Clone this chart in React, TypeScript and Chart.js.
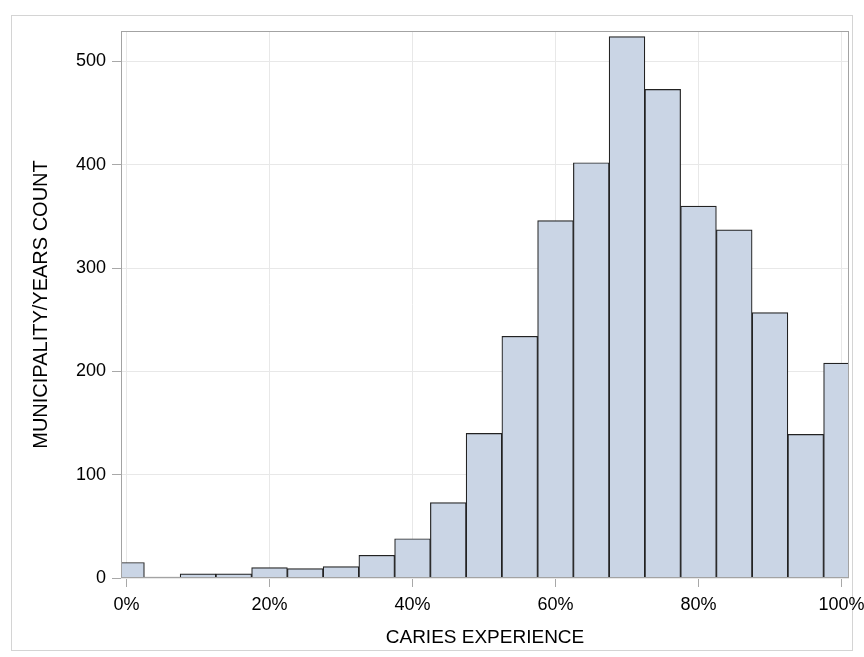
import React, { useEffect, useRef } from "react";
import { Chart, registerables } from "chart.js";

Chart.register(...registerables);

const binCenters = [0, 5, 10, 15, 20, 25, 30, 35, 40, 45, 50, 55, 60, 65, 70, 75, 80, 85, 90, 95, 100];
const counts = [15, 1, 4, 4, 10, 9, 11, 22, 38, 73, 140, 234, 346, 402, 524, 473, 360, 337, 257, 139, 208];
const xTickValues = [0, 20, 40, 60, 80, 100];
const yTickValues = [0, 100, 200, 300, 400, 500];
const xTitle = "CARIES EXPERIENCE";
const yTitle = "MUNICIPALITY/YEARS COUNT";

const FONT = "'Liberation Sans', Arial, Helvetica, sans-serif";

export default function App() {
  const ref = useRef<HTMLCanvasElement>(null);

  useEffect(() => {
    if (!ref.current) return;
    const framePlugin = {
      id: "frame",
      beforeDraw(chart: any) {
        const ctx = chart.ctx;
        ctx.save();
        ctx.fillStyle = "#ffffff";
        ctx.fillRect(0, 0, chart.width, chart.height);
        ctx.strokeStyle = "#d4d4d4";
        ctx.lineWidth = 1;
        ctx.strokeRect(11.5, 15.5, 841, 635);
        ctx.restore();
      },
      afterDraw(chart: any) {
        const { left, top, right, bottom } = chart.chartArea;
        const ctx = chart.ctx;
        ctx.save();
        ctx.strokeStyle = "#a3a3a3";
        ctx.lineWidth = 1;
        ctx.strokeRect(left + 0.5, top + 0.5, right - left - 1, bottom - top - 1);
        ctx.restore();
      },
    };

    const chart = new Chart(ref.current, {
      type: "bar",
      data: {
        datasets: [
          {
            data: binCenters.map((x, i) => ({ x, y: counts[i] })),
            backgroundColor: "#cad5e5",
            borderColor: "#222222",
            borderWidth: 1.2,
            barPercentage: 1,
            categoryPercentage: 1,
            borderSkipped: "start",
          },
        ],
      },
      options: {
        responsive: false,
        animation: false,
        devicePixelRatio: 1,
        layout: { padding: { top: 31, right: 15, left: 0, bottom: 0 } },
        plugins: { legend: { display: false }, tooltip: { enabled: false } },
        scales: {
          x: {
            type: "linear",
            offset: false,
            min: -0.77,
            max: 101.05,
            afterBuildTicks: (scale: any) => {
              scale.ticks = xTickValues.map((v) => ({ value: v }));
            },
            afterFit: (scale: any) => {
              scale.height = 79;
              scale.paddingLeft = 0;
              scale.paddingRight = 0;
            },
            grid: { offset: false, color: "#e8e8e8", tickColor: "#a8a8a8", tickLength: 9, lineWidth: 1 },
            border: { display: false },
            ticks: {
              autoSkip: false,
              maxRotation: 0,
              padding: 7,
              color: "#000",
              font: { family: FONT, size: 18 },
              callback: (v: any) => `${v}%`,
            },
            title: {
              display: true,
              text: xTitle,
              color: "#000",
              font: { family: FONT, size: 19 },
              padding: { top: 0, bottom: 7.6 },
            },
          },
          y: {
            type: "linear",
            min: 0,
            max: 529.5,
            afterBuildTicks: (scale: any) => {
              scale.ticks = yTickValues.map((v) => ({ value: v }));
            },
            afterFit: (scale: any) => {
              scale.width = 121;
              scale.paddingTop = 0;
              scale.paddingBottom = 0;
            },
            grid: { color: "#e8e8e8", tickColor: "#a8a8a8", tickLength: 9, lineWidth: 1 },
            border: { display: false },
            ticks: {
              padding: 6,
              color: "#000",
              font: { family: FONT, size: 18 },
            },
            title: {
              display: true,
              text: yTitle,
              color: "#000",
              font: { family: FONT, size: 20 },
              padding: { top: 29, bottom: 0 },
            },
          },
        },
      },
      plugins: [framePlugin],
    } as any);

    return () => chart.destroy();
  }, []);

  return (
    <div style={{ position: "fixed", left: 0, top: 0, width: 864, height: 657, background: "#fff" }}>
      <canvas ref={ref} width={864} height={657} style={{ display: "block" }} />
    </div>
  );
}
